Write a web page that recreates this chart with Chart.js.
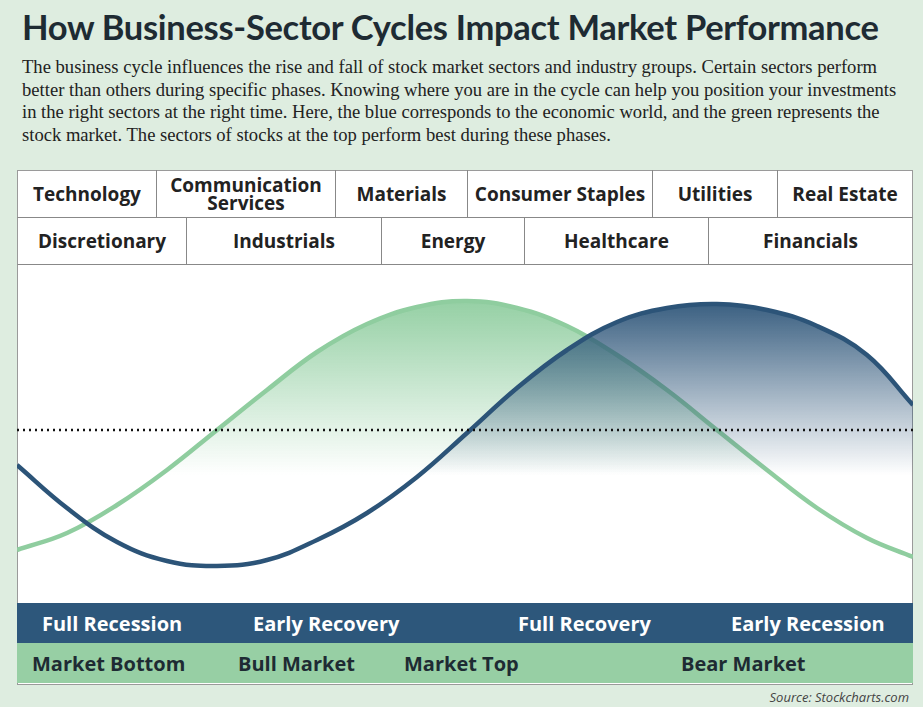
<!DOCTYPE html>
<html><head><meta charset="utf-8">
<script src="https://cdn.jsdelivr.net/npm/chart.js@4/dist/chart.umd.min.js"></script>
<style>
body{margin:0;width:923px;height:707px;background:#deede0;font-family:"Open Sans",sans-serif;position:relative;overflow:hidden}
h1{position:absolute;left:22px;top:6px;margin:0;font-family:Lato,sans-serif;font-weight:bold;font-size:34.5px;color:#1e2b33;letter-spacing:-0.3px}
.intro{position:absolute;left:22px;top:56px;width:880px;font-family:"Liberation Serif",serif;font-size:18.6px;line-height:22.5px;color:#222}
.box{position:absolute;left:17px;top:170px;width:896px;height:515px;border:1px solid #9a9a9a;background:#fff;box-sizing:border-box}
.cell{position:absolute;display:flex;align-items:center;justify-content:center;text-align:center;font-weight:bold;font-size:19px;line-height:18px;color:#222;border-right:1px solid #888;border-bottom:1px solid #888;box-sizing:border-box}
#plot{position:absolute;left:17px;top:265px;width:896px;height:338px}
.band{position:absolute;left:17px;width:896px;height:40px}
.lbl{position:absolute;top:7px;font-weight:bold;font-size:20px}
.src{position:absolute;right:14px;top:688px;font-style:italic;font-size:13px;color:#444}
</style></head><body>
<h1>How Business-Sector Cycles Impact Market Performance</h1>
<div class="intro">The business cycle influences the rise and fall of stock market sectors and industry groups. Certain sectors perform better than others during specific phases. Knowing where you are in the cycle can help you position your investments in the right sectors at the right time. Here, the blue corresponds to the economic world, and the green represents the stock market. The sectors of stocks at the top perform best during these phases.</div>
<div class="box"></div>
<div id="cells"></div>
<div id="plot"><canvas id="c"></canvas></div>
<div class="band" id="b1" style="top:603px;background:#2d577b;color:#fff"></div>
<div class="band" id="b2" style="top:643px;background:#97cfa4;color:#1e2b33"></div>
<div class="src">Source: Stockcharts.com</div>
<script>
const row1 = ['Technology', 'Communication<br>Services', 'Materials', 'Consumer Staples', 'Utilities', 'Real Estate'];
const row1Edges = [17, 157, 336, 468, 653, 778, 913];
const row2 = ['Discretionary', 'Industrials', 'Energy', 'Healthcare', 'Financials'];
const row2Edges = [17, 187, 382, 525, 709, 913];
const economyPhases = [['Full Recession', 42], ['Early Recovery', 253], ['Full Recovery', 518], ['Early Recession', 731]];
const marketPhases = [['Market Bottom', 32], ['Bull Market', 238], ['Market Top', 404], ['Bear Market', 681]];

const xs = [0, 50, 100, 150, 200, 250, 300, 350, 400, 450, 500, 550, 600, 650, 700, 750, 800, 850, 896];
const economy = [-35, -78, -112, -131, -136, -130, -110, -83, -47, -3, 42, 80, 108, 122, 126, 120, 104, 75, 25];
const market = [-120, -103, -75, -40, 0, 40, 78, 106, 123, 129, 122, 104, 75, 40, 0, -40, -78, -108, -127];

function addRow(names, edges, top) {
    names.forEach((n, i) => {
        const d = document.createElement('div');
        d.className = 'cell';
        d.style.left = edges[i] + 'px';
        d.style.top = top + 'px';
        d.style.width = (edges[i + 1] - edges[i]) + 'px';
        d.style.height = (top === 170 ? 48 : 47) + 'px';
        if (i === names.length - 1) d.style.borderRight = '1px solid #9a9a9a';
        if (i === 0) d.style.borderLeft = '1px solid #9a9a9a';
        d.innerHTML = n;
        document.getElementById('cells').appendChild(d);
    });
}
addRow(row1, row1Edges, 170);
addRow(row2, row2Edges, 218);

function addLabels(id, list) {
    list.forEach(([t, x]) => {
        const s = document.createElement('span');
        s.className = 'lbl';
        s.style.left = (x - 17) + 'px';
        s.textContent = t;
        document.getElementById(id).appendChild(s);
    });
}
addLabels('b1', economyPhases);
addLabels('b2', marketPhases);

// vertical gradient fading to transparent a little below the dotted line
function fade(rgb) {
    return (ctx) => {
        const { chart } = ctx;
        const a = chart.chartArea;
        if (!a) return 'transparent';
        const y = chart.scales.y;
        const g = chart.ctx.createLinearGradient(0, y.getPixelForValue(130), 0, y.getPixelForValue(-45));
        g.addColorStop(0, `rgba(${rgb},0.95)`);
        g.addColorStop(1, `rgba(${rgb},0)`);
        return g;
    };
}

const pts = (vals) => vals.map((v, i) => ({ x: xs[i], y: v }));

new Chart(document.getElementById('c'), {
    type: 'line',
    data: {
        datasets: [
            {
                data: xs.map(x => ({ x: x, y: 0 })),
                borderColor: '#111', borderWidth: 2.5, borderDash: [2, 4],
                pointRadius: 0, fill: false, order: 0
            },
            {
                data: pts(market),
                borderColor: '#8fcd9f', borderWidth: 4.5,
                backgroundColor: fade('143,205,159'),
                fill: { value: -45 }, tension: 0.4, pointRadius: 0, order: 2
            },
            {
                data: pts(economy),
                borderColor: '#2c5478', borderWidth: 4.5,
                backgroundColor: fade('44,84,120'),
                fill: { value: -45 }, tension: 0.4, pointRadius: 0, order: 1
            }
        ]
    },
    options: {
        responsive: true,
        maintainAspectRatio: false,
        animation: false,
        layout: { padding: 0 },
        plugins: { legend: { display: false }, tooltip: { enabled: false } },
        scales: {
            x: { type: 'linear', min: 0, max: 896, display: false },
            y: { min: -173, max: 165, display: false }
        }
    }
});
</script>
</body></html>
